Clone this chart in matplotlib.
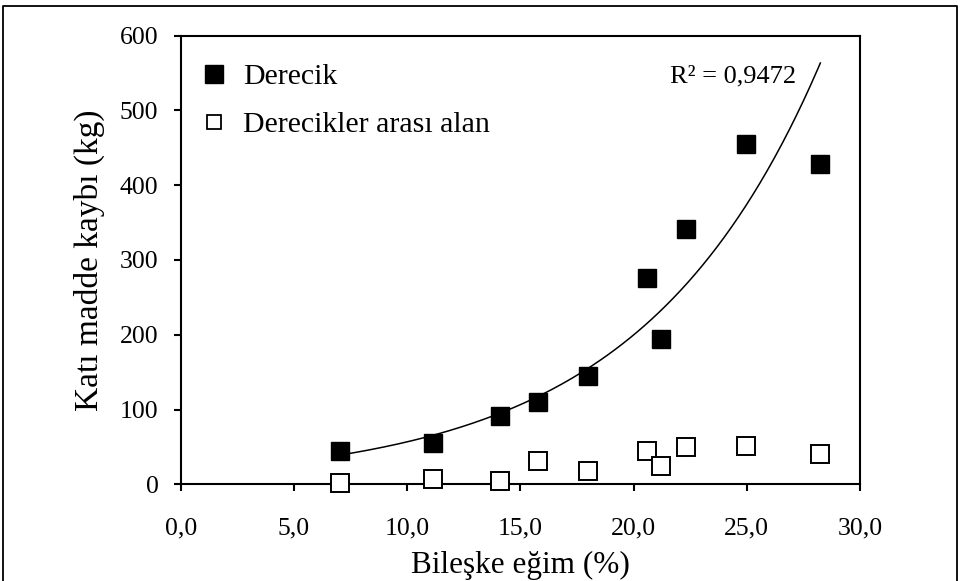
import matplotlib.pyplot as plt
from matplotlib.lines import Line2D
import numpy as np

plt.rcParams['font.family'] = ['Liberation Serif', 'DejaVu Serif']

# Bileşke eğim (%) and katı madde kaybı (kg)
derecik_x = [7.05, 11.15, 14.1, 15.8, 18.0, 20.6, 21.2, 22.3, 24.95, 28.25]
derecik_y = [44, 55, 91, 110, 145, 276, 194, 341, 455, 429]
arasi_x = [7.05, 11.15, 14.1, 15.8, 18.0, 20.6, 21.2, 22.3, 24.95, 28.25]
arasi_y = [2, 7, 5, 31, 18, 44, 24, 50, 51, 41]

x_ticks = [0, 5, 10, 15, 20, 25, 30]
y_ticks = [0, 100, 200, 300, 400, 500, 600]
r2_label = 'R² = 0,9472'

fig = plt.figure(figsize=(9.6, 5.81), dpi=100)
ax = fig.add_axes([0.1882, 0.1664, 0.7076, 0.7722])

# exponential trendline (Excel style: ln(y) linear in x)
b, ln_a = np.polyfit(derecik_x, np.log(derecik_y), 1)
xs = np.linspace(min(derecik_x), max(derecik_x), 200)
ax.plot(xs, np.exp(ln_a) * np.exp(b * xs), color='black', lw=1.1, zorder=2)

ax.plot(derecik_x, derecik_y, 's', ms=13.5, mfc='black', mec='black', mew=1,
        ls='none', zorder=3, clip_on=False)
ax.plot(arasi_x, arasi_y, 's', ms=12.5, mfc='white', mec='black', mew=1.4,
        ls='none', zorder=3, clip_on=False)

ax.set_xlim(0, 30)
ax.set_ylim(0, 600)
ax.set_xticks(x_ticks)
ax.set_xticklabels([f'{v:.1f}'.replace('.', ',') for v in x_ticks])
ax.set_yticks(y_ticks)

for s in ax.spines.values():
    s.set_linewidth(1.5)
ax.tick_params(axis='both', direction='out', length=5, width=1.5, labelsize=18.5)
ax.tick_params(axis='x', pad=19)
ax.tick_params(axis='y', pad=11)

ax.set_xlabel('Bileşke eğim (%)', fontsize=22.5, labelpad=8)
ax.set_ylabel('Katı madde kaybı (kg)', fontsize=24, labelpad=11)

ax.text(21.6, 538, r2_label, fontsize=19, ha='left', va='baseline')

handles = [
    Line2D([], [], marker='s', ls='none', ms=13, mfc='black', mec='black'),
    Line2D([], [], marker='s', ls='none', ms=10, mfc='white', mec='black', mew=1.3),
]
ax.legend(handles, ['Derecik', 'Derecikler arası alan'], loc='upper left',
          bbox_to_anchor=(0.0, 0.985), frameon=False, fontsize=21.5,
          handlelength=0.8, handletextpad=0.6, labelspacing=0.7,
          borderaxespad=0.3)

# outer chart frame
fig.add_artist(Line2D([3 / 960, 3 / 960, 957 / 960, 957 / 960],
                      [0, 1 - 6 / 581, 1 - 6 / 581, 0],
                      transform=fig.transFigure, color='black', lw=1.3))

fig.savefig('out.png', dpi=100)
